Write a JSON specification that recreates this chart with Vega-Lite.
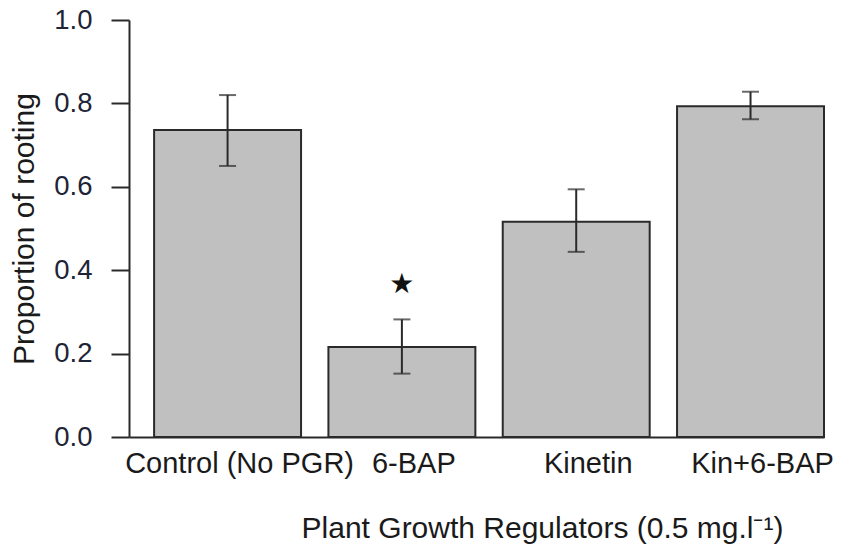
{
  "$schema": "https://vega.github.io/schema/vega-lite/v6.json",
  "width": 695,
  "height": 417,
  "autosize": {"type": "none"},
  "padding": {"left": 129, "top": 20, "right": 19, "bottom": 112},
  "background": "white",
  "config": {
    "view": {"stroke": null},
    "font": "Liberation Sans",
    "axis": {"grid": false, "labelFont": "Liberation Sans", "titleFont": "Liberation Sans", "titleFontWeight": "normal"}
  },
  "data": {
    "values": [
      {"regulator": "Control (No PGR)", "proportion": 0.736, "lo": 0.650, "hi": 0.820, "sig": ""},
      {"regulator": "6-BAP", "proportion": 0.216, "lo": 0.152, "hi": 0.282, "sig": "★"},
      {"regulator": "Kinetin", "proportion": 0.516, "lo": 0.444, "hi": 0.594, "sig": ""},
      {"regulator": "Kin+6-BAP", "proportion": 0.793, "lo": 0.762, "hi": 0.828, "sig": ""}
    ]
  },
  "encoding": {
    "x": {
      "field": "regulator",
      "type": "nominal",
      "sort": null,
      "scale": {"paddingInner": 0.157, "paddingOuter": 0.072, "align": 1},
      "axis": {
        "title": "Plant Growth Regulators (0.5 mg.l⁻¹)",
        "titleFontSize": 30,
        "titleColor": "#1a1a1a",
        "titleX": 413,
        "titleY": 100,
        "titleAlign": "center",
        "titleBaseline": "alphabetic",
        "labelAngle": 0,
        "labelFontSize": 29,
        "labelLimit": 0,
        "labelColor": "#1a1a1a",
        "labelPadding": 12,
        "labelOffset": 12,
        "ticks": false,
        "domainColor": "#2a2a2a",
        "domainWidth": 2
      }
    }
  },
  "layer": [
    {
      "mark": {"type": "bar", "fill": "#c0c0c0", "stroke": "#2a2a2a", "strokeWidth": 2},
      "encoding": {
        "y": {
          "field": "proportion",
          "type": "quantitative",
          "scale": {"domain": [0, 1], "nice": false},
          "axis": {
            "title": "Proportion of rooting",
            "titleFontSize": 30,
            "titleColor": "#1a1a1a",
            "titlePadding": 14,
            "values": [0, 0.2, 0.4, 0.6, 0.8, 1.0],
            "format": ".1f",
            "labelFontSize": 27.5,
            "labelColor": "#1e2436",
            "labelPadding": 19,
            "tickSize": 18,
            "tickWidth": 2,
            "tickColor": "#2a2a2a",
            "domainColor": "#2a2a2a",
            "domainWidth": 2
          }
        }
      }
    },
    {
      "mark": {"type": "rule", "stroke": "#2a2a2a", "strokeWidth": 2},
      "encoding": {
        "y": {"field": "lo", "type": "quantitative"},
        "y2": {"field": "hi"}
      }
    },
    {
      "mark": {"type": "tick", "color": "#2a2a2a", "size": 17, "thickness": 2},
      "encoding": {"y": {"field": "lo", "type": "quantitative"}}
    },
    {
      "mark": {"type": "tick", "color": "#2a2a2a", "size": 17, "thickness": 2},
      "encoding": {"y": {"field": "hi", "type": "quantitative"}}
    },
    {
      "transform": [{"filter": "datum.sig != ''"}],
      "mark": {"type": "text", "fontSize": 28, "font": "DejaVu Sans", "color": "#111111", "baseline": "middle", "dy": -34},
      "encoding": {
        "y": {"field": "hi", "type": "quantitative"},
        "text": {"field": "sig"}
      }
    }
  ]
}
